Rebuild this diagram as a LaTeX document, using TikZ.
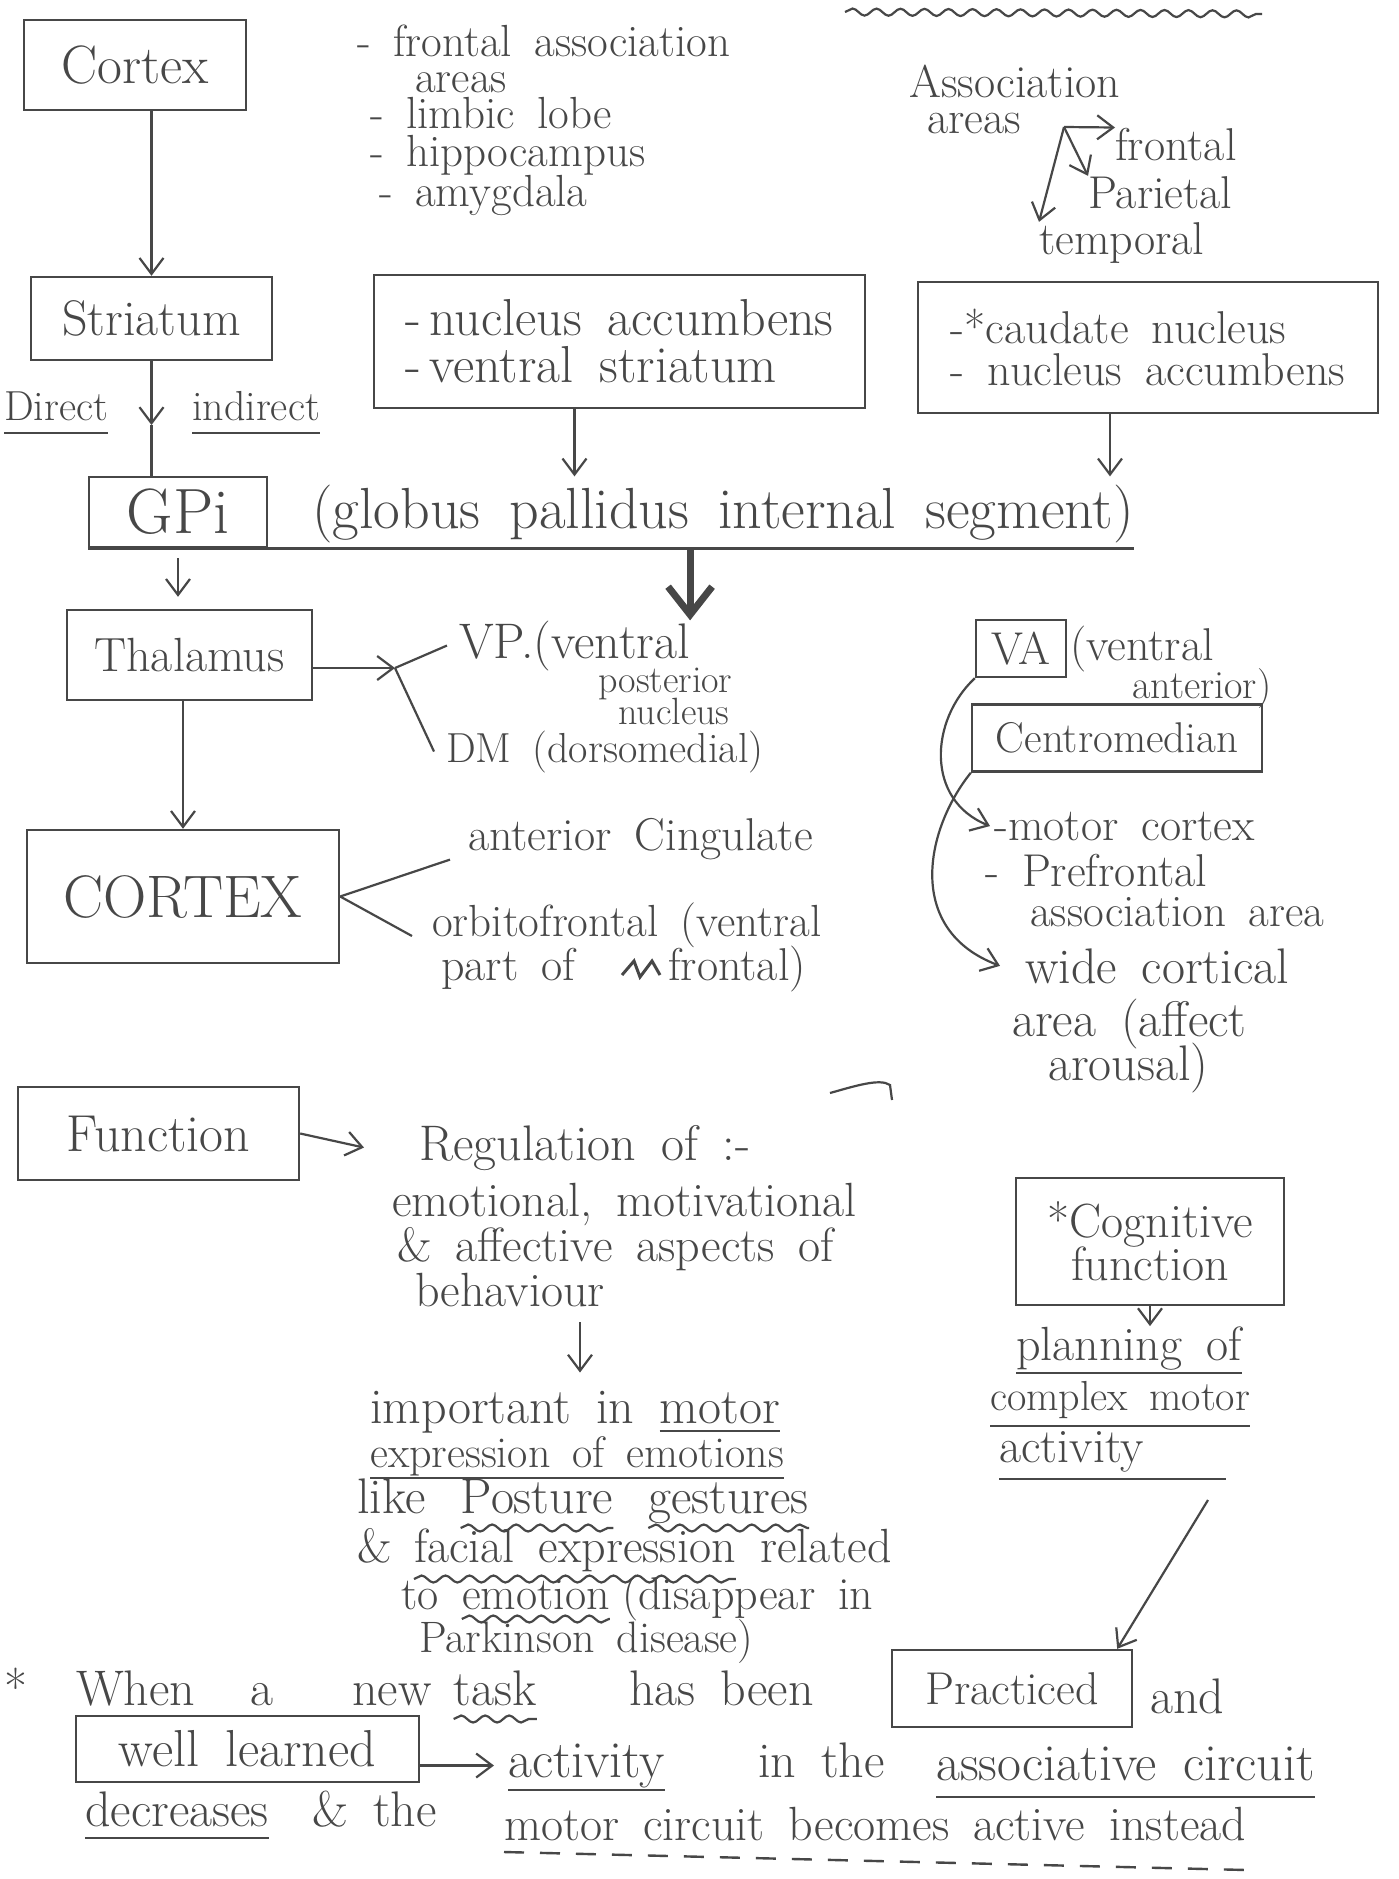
\documentclass[tikz,border=0pt]{standalone}
\usepackage{tikz}
\usetikzlibrary{arrows.meta,positioning,decorations.pathmorphing}
\definecolor{ink}{HTML}{474747}
\def\handsize#1{\fontsize{#1}{#1}\selectfont\spaceskip=.5em\relax}
\def\nodeul#1#2{\draw[ul] ([yshift=-#2]#1.base west) -- ([yshift=-#2]#1.base east);}
\def\nodewave#1#2{\draw[wavy] ([yshift=-#2]#1.base west) -- ([yshift=-#2]#1.base east);}

\begin{document}
\begin{tikzpicture}[x=1pt,y=-1pt,
  hand/.style={text=ink,inner sep=0pt,anchor=base west,font=\handsize{48}},
  box/.style={draw=ink,line width=2.4pt,text=ink,inner sep=0pt,align=center},
  arr/.style={draw=ink,line width=2.2pt,-{Straight Barb[length=16pt,width=24pt]}},
  fat/.style={draw=ink,line width=7pt,-{Straight Barb[length=28pt,width=44pt]}},
  link/.style={draw=ink,line width=2.2pt},
  ul/.style={draw=ink,line width=2.6pt},
  wavy/.style={draw=ink,line width=2.2pt,decorate,decoration={snake,amplitude=3.5pt,segment length=24pt}},
  dashline/.style={draw=ink,line width=2.4pt,dash pattern=on 20pt off 16pt}]
  \path[fill=white,use as bounding box] (0,0) rectangle (1398,1879);

  % top strip
  \draw[wavy] (845,12) -- (1262,14);
  \node[box,font=\handsize{54},minimum width=222pt,minimum height=90pt] (cortexTop) at (135,65) {Cortex};
  \node[hand,font=\handsize{45}] (frontalAssoc) at (357,56) {- frontal association};
  \node[hand,font=\handsize{45}] (areasA) at (415,92) {areas};
  \node[hand,font=\handsize{45}] (limbic) at (370,128) {- limbic lobe};
  \node[hand,font=\handsize{45}] (hippo) at (370,166) {- hippocampus};
  \node[hand,font=\handsize{45}] (amygdala) at (379,206) {- amygdala};

  \node[hand,font=\handsize{46}] (assocB) at (909,97) {Association};
  \node[hand,font=\handsize{46}] (areasB) at (927,133) {areas};
  \node[hand,font=\handsize{46}] (frontalB) at (1115,160) {frontal};
  \node[hand,font=\handsize{46}] (parietal) at (1088,208) {Parietal};
  \node[hand,font=\handsize{46}] (temporal) at (1039,254) {temporal};
  \coordinate (assocFork) at (1064,127);
  \draw[arr] (assocFork) -- (frontalB.north west);
  \draw[arr] (assocFork) -- (parietal.north west);
  \draw[arr] (assocFork) -- (temporal.north west);

  % striatum row
  \node[box,font=\handsize{50},minimum width=241pt,minimum height=83pt] (striatum) at (151.5,318.5) {Striatum};
  \node[box,font=\handsize{52},align=left,minimum width=491pt,minimum height=133pt] (accBox) at (619.5,341.5)
    {-\,nucleus accumbens\\[-5pt]-\,ventral striatum};
  \node[box,font=\handsize{46},align=left,minimum width=460pt,minimum height=131pt] (caudBox) at (1148,347.5)
    {-*caudate nucleus\\[-4pt]- nucleus accumbens};
  \draw[arr] (cortexTop.south -| striatum.north) -- (striatum.north);

  \node[hand,font=\handsize{42}] (direct) at (4,420) {Direct};
  \node[hand,font=\handsize{42}] (indirect) at (192,420) {indirect};
  \nodeul{direct}{13pt}
  \nodeul{indirect}{13pt}

  % GPi row
  \node[box,font=\handsize{64},minimum width=178pt,minimum height=70pt] (gpiBox) at (178,512) {GPi};
  \node[hand,font=\handsize{58}] (gpiFull) at (312,528) {(globus pallidus internal segment)};
  \draw[ul] (gpiBox.south west) -- (gpiBox.south west -| gpiFull.east);
  \coordinate (dirMid) at (151.5,425);
  \draw[arr] (striatum.south) -- (dirMid);
  \draw[link] (dirMid) -- (dirMid |- gpiBox.north);
  \draw[arr,shorten >=8pt] ([xshift=-45pt]accBox.south) -- ([xshift=-45pt]accBox.south |- gpiFull.north);
  \draw[arr,shorten >=8pt] ([xshift=-38pt]caudBox.south) -- ([xshift=-38pt]caudBox.south |- gpiFull.north);

  % thalamus row
  \node[box,font=\handsize{48},minimum width=245pt,minimum height=90pt] (thalBox) at (189.5,655) {Thalamus};
  \draw[arr,shorten >=12pt] ([yshift=-10pt]gpiBox.south) -- (gpiBox.south |- thalBox.north);
  \coordinate (thalFork) at (395,668);
  \draw[arr] (thalBox.east |- thalFork) -- (thalFork);
  \node[hand,font=\handsize{50}] (vp) at (459,658) {VP.(ventral};
  \node[hand,font=\handsize{38}] (vpPost) at (598,692) {posterior};
  \node[hand,font=\handsize{38}] (vpNucleus) at (618,724) {nucleus};
  \node[hand,font=\handsize{42}] (dm) at (446,762) {DM (dorsomedial)};
  \draw[link] (thalFork) -- ([xshift=-12pt]vp.west);
  \draw[link] (thalFork) -- ([xshift=-12pt]dm.west);
  \draw[fat] (vp.north east |- gpiBox.south) -- (vp.north east);

  \node[box,font=\handsize{46},minimum width=90pt,minimum height=57pt] (vaBox) at (1021,648.5) {VA};
  \node[hand,font=\handsize{46}] (vaVentral) at (1070,660) {(ventral};
  \node[hand,font=\handsize{40}] (vaAnterior) at (1132,698) {anterior)};
  \node[box,font=\handsize{43},minimum width=290pt,minimum height=67pt] (centroBox) at (1117,738) {Centromedian};
  \node[hand,font=\handsize{46}] (motorCx) at (994,840) {-motor cortex};
  \node[hand,font=\handsize{46}] (prefrontal) at (985,886) {- Prefrontal};
  \node[hand,font=\handsize{45}] (assocArea) at (1030,926) {association area};
  \node[hand,font=\handsize{50}] (wideCx) at (1025,983) {wide cortical};
  \node[hand,font=\handsize{50}] (areaAffect) at (1012,1036) {area (affect};
  \node[hand,font=\handsize{50}] (arousal) at (1048,1080) {arousal)};
  \draw[arr] (vaBox.south west) .. controls (930,720) and (925,800) .. ([xshift=-4pt]motorCx.west);
  \draw[arr] (centroBox.south west) .. controls (925,830) and (905,930) .. ([xshift=-25pt]wideCx.west);

  % cortex row
  \node[box,font=\handsize{60},minimum width=312pt,minimum height=133pt] (cortexBig) at (183,896.5) {CORTEX};
  \draw[arr] (thalBox.south -| cortexBig.north) -- (cortexBig.north);
  \node[hand,font=\handsize{46}] (antCing) at (468,850) {anterior Cingulate};
  \node[hand,font=\handsize{45}] (orbito) at (432,936) {orbitofrontal (ventral};
  \node[hand,font=\handsize{46}] (partOf) at (441,980) {part of};
  \node[hand,font=\handsize{46}] (frontalC) at (668,980) {frontal)};
  \draw[link] (cortexBig.east) -- ([xshift=-18pt]antCing.south west);
  \draw[link] (cortexBig.east) -- ([xshift=-20pt]orbito.base west);
  \draw[link,line width=3pt] (622,975) -- (634,961) -- (640,977) -- (652,961) -- (660,975);
  \draw[link] (830,1093) .. controls (855,1086) and (880,1078) .. (890,1085) -- (892,1100);

  % function row
  \node[box,font=\handsize{52},minimum width=281pt,minimum height=93pt] (funcBox) at (158.5,1133.5) {Function};
  \node[hand,font=\handsize{50}] (regul) at (419,1160) {Regulation of :-};
  \draw[arr] (funcBox.east) -- ([xshift=-55pt]regul.west);
  \node[hand] (emotional) at (392,1216) {emotional, motivational};
  \node[hand] (affective) at (397,1261) {\& affective aspects of};
  \node[hand] (behaviour) at (415,1306) {behaviour};
  \node[hand,font=\handsize{50}] (impA) at (370,1423) {important in};
  \node[hand,font=\handsize{50},right=25pt of impA.base east,anchor=base west] (impMotor) {motor};
  \nodeul{impMotor}{8pt}
  \coordinate (behavFoot) at (580,1322);
  \draw[arr,shorten >=18pt] (behavFoot) -- (behavFoot |- impA.north);
  \node[hand,font=\handsize{44}] (exprEmo) at (370,1467) {expression of emotions};
  \nodeul{exprEmo}{11pt}
  \node[hand,font=\handsize{50}] (like) at (357,1513) {like};
  \node[hand,font=\handsize{50},right=35pt of like.base east,anchor=base west] (posture) {Posture};
  \node[hand,font=\handsize{50},right=35pt of posture.base east,anchor=base west] (gestures) {gestures};
  \nodewave{posture}{15pt}
  \nodewave{gestures}{15pt}
  \node[hand] (ampFacial) at (357,1562) {\&};
  \node[hand,right=22pt of ampFacial.base east,anchor=base west] (facialExpr) {facial expression};
  \node[hand,right=24pt of facialExpr.base east,anchor=base west] (related) {related};
  \nodewave{facialExpr}{17pt}
  \node[hand,font=\handsize{46}] (toEmo) at (401,1609) {to};
  \node[hand,font=\handsize{46},right=23pt of toEmo.base east,anchor=base west] (emotion) {emotion};
  \node[hand,font=\handsize{46},right=12pt of emotion.base east,anchor=base west] (disappear) {(disappear in};
  \nodewave{emotion}{10pt}
  \node[hand,font=\handsize{44}] (parkinson) at (419,1652) {Parkinson disease)};

  % cognitive column
  \node[box,font=\handsize{48},minimum width=268pt,minimum height=127pt] (cogBox) at (1150,1241.5) {*Cognitive\\[-5pt]function};
  \node[hand] (planning) at (1016,1360) {planning of};
  \node[hand,font=\handsize{42}] (complexMotor) at (990,1410) {complex motor};
  \node[hand] (activityR) at (999,1462) {activity};
  \draw[arr] (cogBox.south) -- (cogBox.south |- planning.north);
  \nodeul{planning}{13pt}
  \nodeul{complexMotor}{16pt}
  \draw[ul] ([yshift=-17pt]activityR.base west) -- ++(227,0);

  % bottom note
  \node[hand,font=\handsize{50}] (bStar) at (4,1705) {*};
  \node[hand,font=\handsize{50}] (bWhen) at (76,1705) {When};
  \node[hand,font=\handsize{50}] (bA) at (250,1705) {a};
  \node[hand,font=\handsize{50}] (bNew) at (352,1705) {new};
  \node[hand,font=\handsize{50},right=22pt of bNew.base east,anchor=base west] (bTask) {task};
  \nodewave{bTask}{14pt}
  \node[hand,font=\handsize{50}] (bHasBeen) at (629,1705) {has been};
  \node[box,font=\handsize{46},minimum width=240pt,minimum height=77pt] (practBox) at (1012,1688.5) {Practiced};
  \node[hand,font=\handsize{50}] (bAnd) at (1150,1713) {and};
  \coordinate (cogTail) at (1208,1500);
  \draw[arr] (cogTail) -- ([xshift=-16pt]practBox.north east);

  \node[box,font=\handsize{52},minimum width=343pt,minimum height=66pt] (wellBox) at (247.5,1749) {well learned};
  \node[hand,font=\handsize{52}] (bActivity) at (508,1777) {activity};
  \nodeul{bActivity}{13pt}
  \draw[arr,shorten >=14pt] (wellBox.east |- bActivity.west) -- (bActivity.west);
  \node[hand,font=\handsize{50}] (bInThe) at (758,1777) {in the};
  \node[hand,font=\handsize{52}] (bAssoc) at (936,1780) {associative circuit};
  \nodeul{bAssoc}{17pt}
  \node[hand,font=\handsize{50}] (bDecr) at (85,1826) {decreases};
  \nodeul{bDecr}{12pt}
  \node[hand,font=\handsize{50}] (bAmpThe) at (312,1826) {\& the};
  \node[hand] (bMotorCirc) at (504,1840) {motor circuit becomes active instead};
  \draw[dashline] ([yshift=-12pt]bMotorCirc.base west) -- ([yshift=-30pt]bMotorCirc.base east);
\end{tikzpicture}
\end{document}
